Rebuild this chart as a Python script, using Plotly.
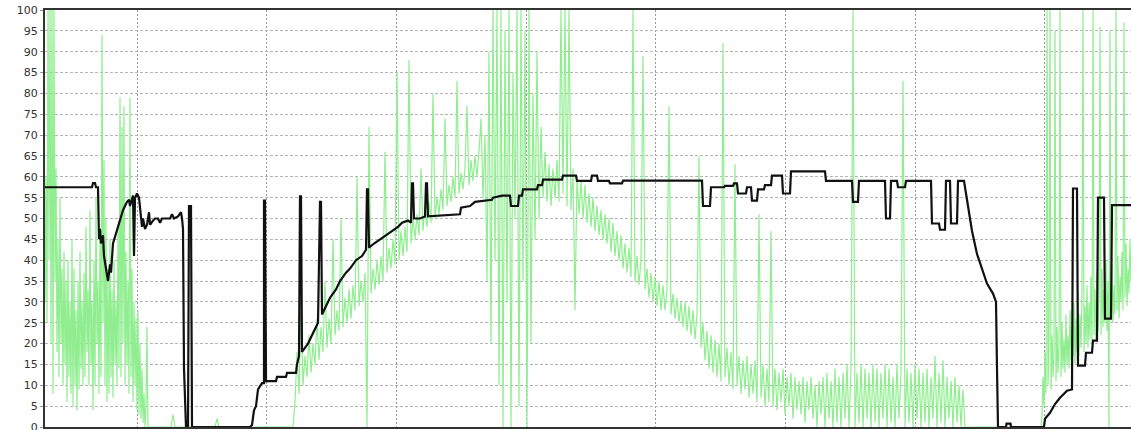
import plotly.graph_objects as go

# green series.
# opening burst: one sample per time unit, starting at t = 0
green_start_t0 = 0
green_start = [
    30, 60, 25, 100, 40, 100, 20, 100, 8, 100, 35, 62, 18, 45, 12, 55, 20, 38,
    10, 42, 15, 35, 6, 40, 12, 30, 8, 45, 5, 38, 10, 28, 4, 35, 9, 42, 14, 30,
    10, 37, 12, 48, 18, 33, 10, 52, 15, 30, 4, 40, 10, 55, 20, 35, 8, 46, 12,
    94, 25, 64, 10, 50, 6, 38, 8, 45, 12, 33, 7, 40, 15, 30, 10, 48, 14, 79, 12,
    72, 20, 77, 10, 42, 15, 35, 8, 79, 12, 38, 6, 30, 10, 26, 4, 28, 3, 20, 2,
    14, 1, 8, 0, 5, 24, 0, 0,
]
# middle part: one sample every 2 time units, starting at t = 106
green_mid_t0 = 106
green_gap1 = [
    0, 0, 0, 0, 0, 0, 0, 0, 0, 0, 0, 3, 0, 0, 0, 0, 0, 0, 0, 0, 0, 0, 0, 0,
    0, 0, 0, 0, 0, 0, 0, 0, 0, 2, 0, 0, 0, 0, 0, 0, 0, 0, 0, 0, 0, 0, 0, 0,
    0, 0, 0, 0, 0, 0, 0, 0, 0, 0, 0, 0, 0, 0, 0, 0, 0, 0, 0, 0, 0, 0, 0, 0,
]
green_rise = [
    6, 18, 8, 30, 10, 17, 12, 22, 13, 20, 15, 26, 16, 24, 18, 35, 19, 26, 20,
    45, 22, 28, 23, 50, 24, 31, 25, 33, 26, 34, 28, 60, 29, 35, 30, 37, 0, 72,
    32, 38, 33, 40, 34, 41, 35, 66, 37, 43, 38, 45, 39, 85, 40, 47, 41, 48, 42,
    88, 44, 50, 45, 51, 46, 62, 47, 53, 48, 54, 49, 80, 50, 55, 51, 57, 52, 74,
    53, 58, 54, 60, 55, 83, 56, 61, 57, 62, 77, 58, 64, 59, 65, 60, 66, 74,
]
green_burst = [
    55, 70, 35, 90, 20, 100, 40, 100, 10, 100, 0, 95, 30, 100, 0, 85, 50, 100,
    5, 100, 35, 95, 0, 100, 20, 80, 45, 90, 50, 72,
]
green_top = [
    55, 66, 54, 63, 53, 62, 55, 64, 54, 100, 56, 100, 53, 100, 52, 62, 28, 60,
    51, 59, 50, 58, 49, 56, 48,
]
green_fall = [
    55, 47, 53, 46, 52, 45, 51, 44, 50, 42, 49, 41, 47, 40, 46, 38, 44, 37, 43,
    36, 100, 35, 41, 34, 40, 89, 33, 38, 31, 37, 30, 36, 29, 35, 28, 34, 28, 33,
    77, 27, 32, 26, 31, 25, 30, 24, 30, 23, 29, 22, 28, 21, 27, 65, 19, 25, 16,
    23, 14, 22, 13, 21, 12, 20, 11, 92, 12, 19, 10, 18, 9, 63, 10, 17, 8, 16, 9,
    17, 7, 15, 8, 16, 6, 51, 7, 15, 5, 14, 6, 47, 5, 14, 4, 13, 6, 14, 3, 12, 5,
    13, 2, 12, 4, 11, 3, 12, 1, 11, 4, 12, 2, 10, 0, 11, 3, 12, 0, 13, 2, 11, 0,
    14, 1, 12, 0, 13, 2, 15, 0,
]
green_low = [
    14, 100, 0, 13, 1, 15, 0, 14, 2, 13, 0, 15, 1, 14, 0, 13, 2, 15, 0, 14, 1,
    12, 0, 15, 2, 13, 83, 0, 14, 1, 13, 0, 15, 2, 14, 0, 13, 1, 14, 0, 12, 2,
    17, 0, 13, 1, 16, 0, 12, 2, 11, 0, 12, 1, 10, 0, 9, 0, 0,
]
green_gap2 = [0] * 36
# closing burst: one sample per time unit, starting at t = 996
green_end_t0 = 996
green_end = [
    0, 3, 12, 5, 18, 8, 100, 10, 20, 100, 9, 22, 12, 17, 95, 11, 24, 13, 19,
    100, 12, 25, 14, 21, 13, 27, 15, 22, 14, 28, 16, 24, 17, 30, 15, 26, 18, 32,
    17, 27, 19, 33, 100, 18, 29, 20, 34, 19, 30, 21, 36, 20, 100, 22, 33, 21,
    37, 23, 31, 96, 22, 38, 24, 33, 25, 40, 23, 35, 0, 95, 26, 39, 25, 34, 27,
    100, 28, 41, 26, 36, 30, 42, 28, 97, 31, 44, 29, 38, 32, 45, 35,
]

green_mid = (green_gap1 + green_rise + green_burst + green_top + green_fall
             + green_low + green_gap2)
green_t = ([green_start_t0 + i for i in range(len(green_start))]
           + [green_mid_t0 + 2 * i for i in range(len(green_mid))]
           + [green_end_t0 + i for i in range(len(green_end))])
green_values = green_start + green_mid + green_end

# black (stepped) series: time and value
black_t = [
    0, 47, 48, 50, 51, 53, 54, 55, 56, 58, 59, 61, 63, 65, 66, 68, 73, 78, 82,
    84, 85, 87, 88, 89, 90, 92, 94, 97, 98, 100, 102, 104, 105, 108, 110, 113,
    115, 117, 125, 127, 129, 133, 136, 137, 138, 139, 140, 141, 143, 144, 146,
    147, 205, 207, 209, 211, 213, 217, 219, 219, 220, 221, 231, 232, 241, 242,
    251, 252, 254, 255, 256, 257, 263, 269, 273, 275, 276, 277, 285, 291, 295,
    301, 305, 311, 317, 321, 322, 323, 324, 329, 335, 341, 347, 353, 357, 363,
    366, 367, 368, 369, 375, 380, 381, 382, 383, 415, 416, 425, 430, 447, 448,
    457, 465, 466, 473, 474, 477, 478, 492, 493, 497, 498, 517, 518, 531, 532,
    546, 547, 552, 553, 564, 565, 577, 578, 657, 658, 665, 666, 679, 680, 688,
    689, 692, 693, 701, 702, 706, 707, 712, 713, 719, 720, 726, 727, 737, 738,
    745, 746, 780, 781, 807, 808, 813, 814, 840, 841, 845, 846, 852, 853, 860,
    861, 886, 887, 894, 895, 900, 901, 905, 906, 912, 913, 919, 923, 927, 932,
    937, 942, 948, 951, 952, 953, 961, 961.5, 965.5, 966, 999, 1000, 1005, 1010,
    1015, 1022, 1027, 1028, 1032, 1033, 1040, 1041, 1047, 1048, 1052, 1053,
    1059, 1060, 1066, 1067, 1086,
]
black_v = [
    57.5, 57.5, 58.5, 58.5, 57.5, 57.5, 45, 47.5, 44, 46, 41, 38, 35, 39, 37,
    44, 48, 52, 54, 54.5, 53, 55, 55.5, 41, 55, 56, 55, 48, 50, 47.5, 48.5,
    51.5, 48.5, 49.5, 50, 50, 49, 50, 50, 51, 50, 50.5, 51.5, 50, 47.5, 14, 3,
    0, 0, 53, 53, 0, 0, 0.5, 4, 5, 9, 10.5, 10.5, 54.3, 54.3, 11, 11, 12, 12,
    13, 13, 15, 17, 55.3, 55.3, 18, 20, 23, 25, 54, 54, 27, 31, 33, 35, 37, 38,
    40, 41, 42.5, 57, 57, 43, 44, 45, 46, 47, 48, 49, 49.5, 49, 58.4, 58.4, 50,
    50, 50.5, 58.4, 58.4, 50.5, 51, 52.6, 53, 54, 54.5, 55, 55.5, 55.5, 53, 53,
    55.5, 55.5, 57, 57, 58, 58, 59.3, 59.3, 60.3, 60.3, 59, 59, 60.3, 60.3, 59,
    59, 58.4, 58.4, 59.1, 59.1, 53, 53, 57.5, 57.5, 57.8, 57.8, 58.4, 58.4, 56,
    56, 57.5, 57.5, 54.3, 54.3, 57, 57, 58, 58, 60.3, 60.3, 56, 56, 61.3, 61.3,
    59, 59, 54, 54, 59, 59, 50, 50, 59, 59, 57.5, 57.5, 59, 59, 48.8, 48.8,
    47.3, 47.3, 59, 59, 48.8, 48.8, 59, 59, 53, 47, 41.5, 38, 34.4, 32, 30, 14,
    0, 0, 0.8, 0.8, 0, 0, 2, 3.4, 5.5, 7, 8.7, 9, 57.2, 57.2, 14.7, 14.7, 17.8,
    17.8, 20.7, 20.7, 55, 55, 26, 26, 53.2, 53.2,
]

y_ticks = list(range(0, 101, 5))

fig = go.Figure()
fig.add_trace(go.Scatter(
    x=green_t, y=green_values, mode="lines",
    line=dict(color="#90ee90", width=1.2), hoverinfo="skip", showlegend=False,
))
fig.add_trace(go.Scatter(
    x=black_t, y=black_v, mode="lines",
    line=dict(color="#111111", width=2.2), hoverinfo="skip", showlegend=False,
))

fig.update_layout(
    width=1131, height=436,
    margin=dict(l=45, r=0, t=10, b=9),
    paper_bgcolor="white", plot_bgcolor="white",
    font=dict(family="DejaVu Sans", size=11, color="#333333"),
    showlegend=False,
)
fig.update_xaxes(
    range=[0, 1086], showticklabels=False,
    tick0=92, dtick=129.7, ticks="",
    showgrid=True, gridcolor="#9a9a9a", griddash="2px,2px", gridwidth=1,
    showline=True, linecolor="#333333", linewidth=2, mirror=True,
    zeroline=False,
)
fig.update_yaxes(
    range=[0, 100], tickvals=y_ticks, ticktext=[str(v) for v in y_ticks],
    showgrid=True, gridcolor="#b5b5b5", griddash="3px,2px", gridwidth=1,
    showline=True, linecolor="#333333", linewidth=2,
    ticks="outside", ticklen=3, tickcolor="#999999",
    zeroline=False,
)
fig.write_html(
    "out.html",
    config={"displayModeBar": False},
    post_script=("document.body.style.margin='0px';"
                 "document.body.style.padding='0px';"
                 "document.body.style.overflow='hidden';"
                 "document.documentElement.style.overflow='hidden';"),
)
